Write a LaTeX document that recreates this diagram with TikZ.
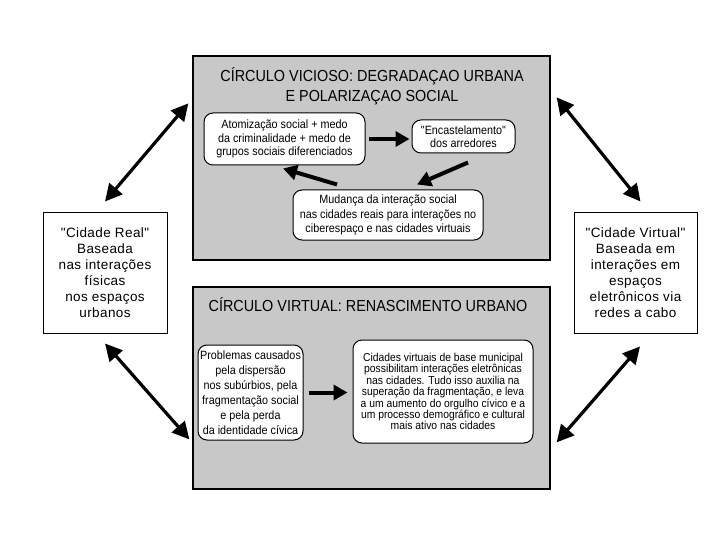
\documentclass[tikz,border=0pt]{standalone}
\usepackage{fontspec}
\setmainfont{Liberation Sans}
\newfontfamily\narrowfont{Liberation Sans}[FakeStretch=0.9]
\newfontfamily\sidefont{Liberation Sans}[LetterSpace=3]
\usetikzlibrary{arrows.meta}

\definecolor{boxgray}{RGB}{200,200,200}

\tikzset{
  graybox/.style={draw, fill=boxgray, line width=1.3pt, inner sep=0pt},
  sidebox/.style={draw, fill=white, line width=1pt, inner sep=0pt, align=center,
                  font=\sidefont\fontsize{13.5}{16}\selectfont},
  roundbox/.style={draw, fill=white, line width=1pt, rounded corners=9pt, inner sep=0pt, align=center},
  title/.style={align=center, font=\narrowfont\fontsize{16}{20}\selectfont},
  bigarrow/.style={line width=3.2pt, {Triangle[length=17pt,width=17pt]}-{Triangle[length=17pt,width=17pt]}},
  flow/.style={line width=4pt, -{Triangle[length=14pt,width=15pt]}}
}

\begin{document}
\begin{tikzpicture}[x=1pt, y=-1pt]
	\useasboundingbox (0,0) rectangle (720,540);

	% the two gray panels
	\node[graybox, minimum width=357pt, minimum height=204pt] (vicioso) at (371.5,158) {};
	\node[graybox, minimum width=357pt, minimum height=202pt] (virtual) at (371.5,388) {};
	\node[title] (tvicioso) at (372,86) {CÍRCULO VICIOSO: DEGRADAÇAO URBANA\\E POLARIZAÇAO SOCIAL};
	\node[title] (tvirtual) at (368,305) {CÍRCULO VIRTUAL: RENASCIMENTO URBANO};

	% side boxes
	\node[sidebox, minimum width=124pt, minimum height=120pt] (real) at (105,273)
		{"Cidade Real"\\Baseada\\nas interações\\físicas\\nos espaços\\urbanos};
	\node[sidebox, minimum width=123pt, minimum height=120pt] (cibvirt) at (635.5,273)
		{"Cidade Virtual"\\Baseada em\\interações em\\espaços\\eletrônicos via\\redes a cabo};

	% vicious circle
	\node[roundbox, minimum width=161pt, minimum height=52pt, font=\narrowfont\fontsize{12}{13.5}\selectfont] (atom) at (284.5,139)
		{Atomização social + medo\\da criminalidade + medo de\\grupos sociais diferenciados};
	\node[roundbox, minimum width=103pt, minimum height=33pt, font=\narrowfont\fontsize{12}{13.5}\selectfont] (encast) at (463.5,136.5)
		{"Encastelamento"\\dos arredores};
	\node[roundbox, minimum width=190pt, minimum height=50pt, font=\narrowfont\fontsize{12}{14.5}\selectfont] (mudanca) at (388,215)
		{Mudança da interação social\\nas cidades reais para interações no\\ciberespaço e nas cidades virtuais};

	% virtual circle
	\node[roundbox, minimum width=105pt, minimum height=95pt, font=\narrowfont\fontsize{12}{15}\selectfont] (probl) at (250.5,392.5)
		{Problemas causados\\pela dispersão\\nos subúrbios, pela\\fragmentação social\\e pela perda\\da identidade cívica};
	\node[roundbox, minimum width=180pt, minimum height=103pt, font=\narrowfont\fontsize{11.5}{11.4}\selectfont] (cidvirt) at (443,391.5)
		{Cidades virtuais de base municipal\\possibilitam interações eletrônicas\\nas cidades. Tudo isso auxilia na\\superação da fragmentação, e leva\\a um aumento do orgulho cívico e a\\um processo demográfico e cultural\\mais ativo nas cidades};

	% flows inside the panels
	\draw[flow] ([xshift=3pt]atom.east) -- ([xshift=-2pt]atom.east -| encast.west);
	\draw[flow] ([xshift=4.5pt,yshift=-9pt]encast.south) -- ([xshift=29pt,yshift=5pt]mudanca.north);
	\draw[flow] ([xshift=-51pt,yshift=5pt]mudanca.north) -- ([xshift=-1.5pt,yshift=-3pt]atom.south);
	\draw[flow] ([xshift=5pt]probl.east) -- ([xshift=-5pt]probl.east -| cidvirt.west);

	% links between the cities and the panels
	\draw[bigarrow] ([yshift=11pt]real.north) -- ([xshift=-4pt,yshift=-48pt]vicioso.north west);
	\draw[bigarrow] ([xshift=5pt,yshift=11pt]cibvirt.north) -- ([xshift=6pt,yshift=-42pt]vicioso.north east);
	\draw[bigarrow] ([yshift=-10pt]real.south) -- ([xshift=-3pt,yshift=-153pt]virtual.north west);
	\draw[bigarrow] ([xshift=4.5pt,yshift=-13pt]cibvirt.south) -- ([xshift=6pt,yshift=-156pt]virtual.north east);
\end{tikzpicture}
\end{document}
